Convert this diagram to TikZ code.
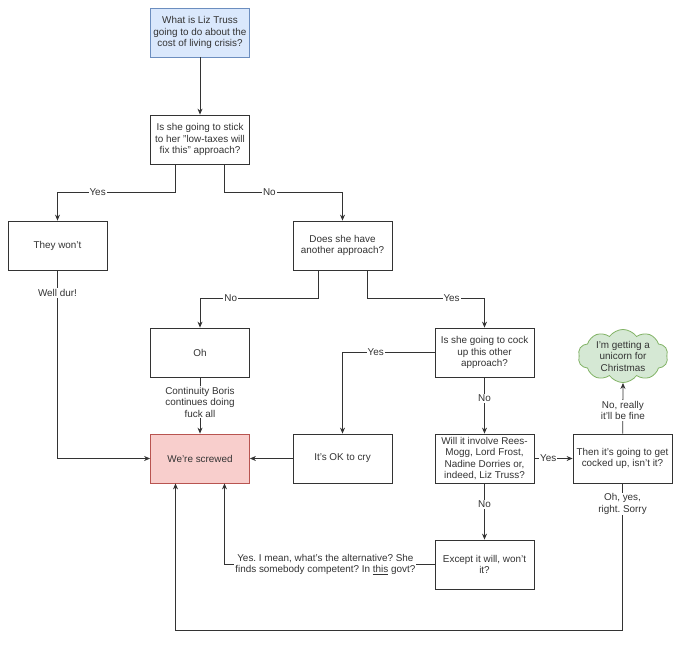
\documentclass[tikz,border=0pt]{standalone}
\usepackage{fontspec}
\setmainfont{Liberation Sans}
\usetikzlibrary{shapes.symbols,arrows.meta}
\definecolor{bfill}{HTML}{DAE8FC}\definecolor{bline}{HTML}{6C8EBF}
\definecolor{rfill}{HTML}{F8CECC}\definecolor{rline}{HTML}{B85450}
\definecolor{gfill}{HTML}{D5E8D4}\definecolor{gline}{HTML}{82B366}
\definecolor{ink}{HTML}{333333}
\frenchspacing
\begin{document}
\begin{tikzpicture}[x=1pt,y=-1pt,
  font=\fontsize{9.9}{11.5}\selectfont\frenchspacing, text=ink,
  box/.style={draw=ink, line width=0.8pt, fill=white, minimum width=99pt, minimum height=49pt, align=center, inner sep=2pt},
  lbl/.style={fill=white, inner sep=1pt, align=center, text=ink},
  conn/.style={draw=ink, line width=0.8pt, -{Stealth[length=6pt,width=5pt]}},
  plain/.style={draw=ink, line width=0.8pt}]
\useasboundingbox (0,0) rectangle (680,646);
\node[box, fill=bfill, draw=bline] (q1) at (200,32.5) {What is Liz Truss\\going to do about the\\cost of living crisis?};
\node[box] (q2) at (200,139.5) {Is she going to stick\\to her "low-taxes will\\fix this" approach?};
\node[box] (won) at (57.5,245.5) {They won't};
\node[box] (does) at (342.5,245.5) {Does she have\\another approach?};
\node[box] (oh) at (200,352.5) {Oh};
\node[box] (cock) at (484.5,352.5) {Is she going to cock\\up this other\\approach?};
\node[cloud, cloud puffs=10, cloud puff arc=110, aspect=1.8, draw=gline, fill=gfill, line width=0.8pt, minimum width=90pt, minimum height=52pt, inner sep=0pt, align=center] (uni) at (623,356) {I'm getting a\\unicorn for\\Christmas};
\node[box, fill=rfill, draw=rline] (scr) at (200,458.5) {We're screwed};
\node[box] (ok) at (342.5,458.5) {It's OK to cry};
\node[box] (will) at (484.5,458.5) {Will it involve Rees-\\Mogg, Lord Frost,\\Nadine Dorries or,\\indeed, Liz Truss?};
\node[box] (then) at (622.5,458.5) {Then it's going to get\\cocked up, isn't it?};
\node[box] (exc) at (484.5,564.5) {Except it will, won't\\it?};

\draw[conn] (q1) -- (q2);
\draw[conn] ([xshift=-24.5pt]q2.south) -- ++(0,28) -| node[lbl,pos=0.33]{Yes} (won.north);
\draw[conn] ([xshift=24.5pt]q2.south) -- ++(0,28) -| node[lbl,pos=0.19]{No} (does.north);
\draw[conn] ([xshift=-24.5pt]does.south) -- ++(0,28) -| node[lbl,pos=0.37]{No} (oh.north);
\draw[conn] ([xshift=24.5pt]does.south) -- ++(0,28) -| node[lbl,pos=0.36]{Yes} (cock.north);
\draw[conn] (cock.west) -| node[lbl,pos=0.32]{Yes} (ok.north);
\draw[conn] (cock) -- node[lbl,pos=0.37]{No} (will);
\draw[conn] (will) -- node[lbl,pos=0.36]{Yes} (then);
\draw[conn] (then) -- node[lbl,pos=0.46]{No, really\\it'll be fine} (uni.south);
\draw[conn] (oh) -- node[lbl,pos=0.44]{Continuity Boris\\continues doing\\fuck all} (scr);
\draw[conn] (won.south) |- node[lbl,pos=0.06]{Well dur!} (scr.west);
\draw[conn] (ok) -- (scr);
\draw[conn] (will) -- node[lbl,pos=0.37]{No} (exc);
\draw[conn] (exc.west) -| node[lbl,pos=0.26]{Yes. I mean, what's the alternative? She\\finds somebody competent? In \underline{this} govt?} ([xshift=24.5pt]scr.south);
\draw[conn] (then.south) -- node[lbl,pos=0.14]{Oh, yes,\\right. Sorry} ++(0,147) -| ([xshift=-24.5pt]scr.south);
\end{tikzpicture}
\end{document}
